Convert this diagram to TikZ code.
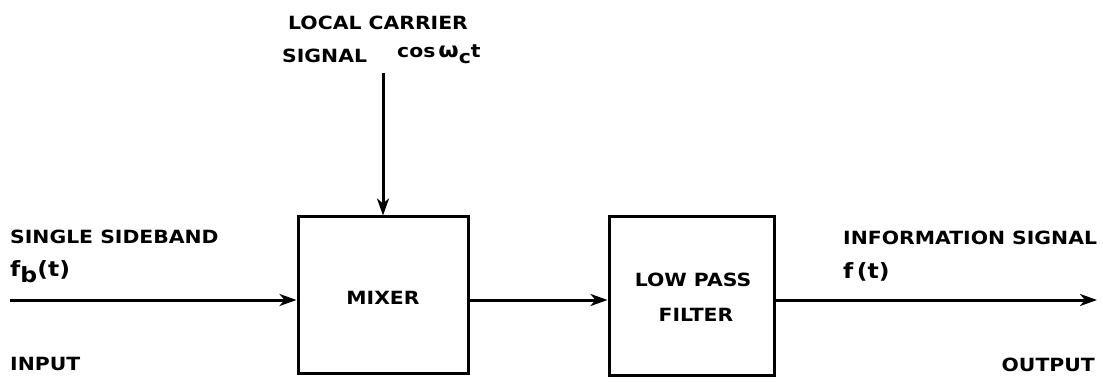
\documentclass[tikz,border=0pt]{standalone}
\usepackage{fontspec}
\setmainfont{DejaVu Sans}
\newfontfamily\lblfont{DejaVu Sans}[FakeStretch=1.12]
\usetikzlibrary{arrows.meta}
\tikzset{
  lbl/.style={inner sep=0pt, anchor=west, font=\lblfont\fontsize{18.2}{20}\selectfont\bfseries},
  big/.style={lbl, font=\lblfont\fontsize{21}{23}\selectfont\bfseries},
  blk/.style={draw, line width=3pt, rectangle, inner sep=0pt},
  sig/.style={line width=3pt, -{Stealth[length=17pt,width=12pt,inset=5pt]}},
}
\begin{document}
\begin{tikzpicture}[x=1pt,y=1pt]
\useasboundingbox (0,0) rectangle (1103,-382);
% blocks
\node[blk, minimum width=170pt, minimum height=156pt] (mixer) at (383,-295) {};
\node[blk, minimum width=165pt, minimum height=158pt] (lpf) at (691.5,-296) {};
% block labels
\node[lbl, anchor=center] (mixt) at (mixer.center |- 0,-298) {MIXER};
\node[lbl, anchor=center] (lpft1) at (693,-280) {LOW PASS};
\node[lbl, anchor=center] (lpft2) at (696,-315) {FILTER};
% signal coordinates
\coordinate (in) at (10,-300);
\coordinate (out) at (1097,-300);
\coordinate (lo) at (383,-73);
% connectors
\draw[sig] (in) -- (in -| mixer.west);
\draw[sig] (in -| mixer.east) -- (in -| lpf.west);
\draw[sig] (in -| lpf.east) -- (out);
\draw[sig] (lo) -- (mixer.north);
% labels
\node[lbl] (lc1) at (288,-23) {LOCAL CARRIER};
\node[lbl] (lc2) at (282,-56) {SIGNAL};
\node[lbl] (lc3) at (397,-54) {cos\,{\fontsize{21}{23}\selectfont ω}\raisebox{-6pt}{c}t};
\node[lbl] (ss) at (10,-237) {SINGLE SIDEBAND};
\node[big] (fb) at (10,-272) {f\raisebox{-6pt}{b}(t)};
\node[lbl] (inp) at (10,-364) {INPUT};
\node[lbl] (inf) at (843,-238) {INFORMATION SIGNAL};
\node[big] (ft) at (843,-272) {f\,(t)};
\node[lbl, anchor=east] (outp) at (1095,-365) {OUTPUT};
\end{tikzpicture}
\end{document}
